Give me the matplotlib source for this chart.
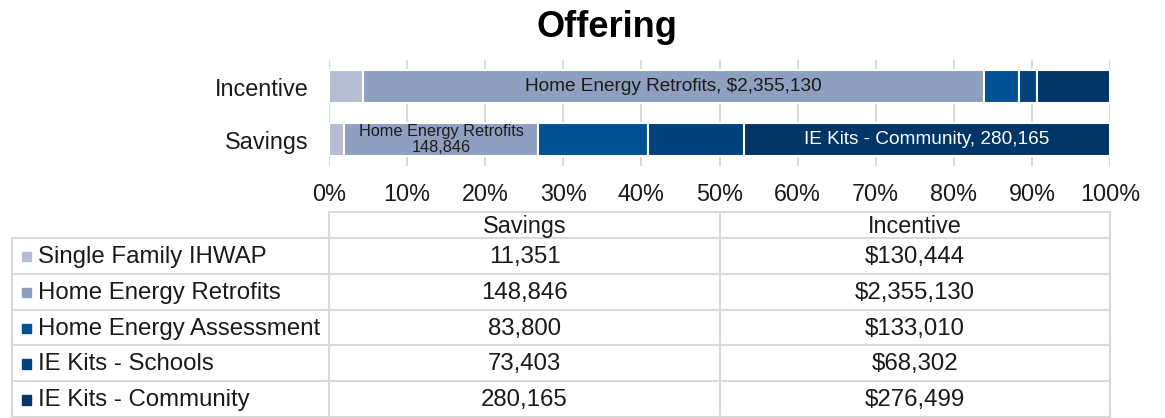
import matplotlib
matplotlib.use("Agg")
import matplotlib.pyplot as plt
from matplotlib.patches import Rectangle

plt.rcParams['font.family'] = ['Liberation Sans', 'DejaVu Sans']

# ---- data ----
programs = ["Single Family IHWAP", "Home Energy Retrofits", "Home Energy Assessment",
            "IE Kits - Schools", "IE Kits - Community"]
savings = [11351, 148846, 83800, 73403, 280165]
incentive = [130444, 2355130, 133010, 68302, 276499]
bar_rows = ["Savings", "Incentive"]
table_cols = ["Savings", "Incentive"]
savings_txt = ["11,351", "148,846", "83,800", "73,403", "280,165"]
incentive_txt = ["$130,444", "$2,355,130", "$133,010", "$68,302", "$276,499"]
colors = ["#b4bdd4", "#8f9fc0", "#005293", "#00427e", "#003568"]
xticks = [0, 10, 20, 30, 40, 50, 60, 70, 80, 90, 100]

W, H = 1165, 418
fig = plt.figure(figsize=(W / 100, H / 100), dpi=100)

def px_axes(left, top, right, bottom):
    return fig.add_axes([left / W, 1 - bottom / H, (right - left) / W, (bottom - top) / H])

# ---- stacked 100% bar chart ----
ax = px_axes(329, 60, 1110, 166)
series = {"Savings": savings, "Incentive": incentive}
for yi, row in enumerate(bar_rows):
    vals = series[row]
    tot = float(sum(vals))
    left = 0.0
    for i, v in enumerate(vals):
        w = v / tot * 100
        ax.barh(yi, w, left=left, height=0.62, color=colors[i], edgecolor="white",
                linewidth=1.5, zorder=3)
        cx = left + w / 2
        if row == "Incentive" and i == 1:
            ax.text(cx, yi, f"{programs[i]}, {incentive_txt[i]}", ha="center", va="center",
                    fontsize=13.7, color="#1a1a1a", zorder=4)
        if row == "Savings" and i == 1:
            ax.text(cx, yi, f"{programs[i]}\n{savings_txt[i]}", ha="center", va="center",
                    fontsize=11.7, color="#1a1a1a", linespacing=1.1, zorder=4)
        if row == "Savings" and i == 4:
            ax.text(cx, yi, f"{programs[i]}, {savings_txt[i]}", ha="center", va="center",
                    fontsize=13.7, color="white", zorder=4)
        left += w

ax.set_xlim(0, 100)
ax.set_ylim(-0.5, 1.5)
ax.set_xticks(xticks)
ax.set_xticklabels([f"{t}%" for t in xticks], fontsize=16.8, color="#1a1a1a")
ax.set_yticks(range(len(bar_rows)))
ax.set_yticklabels(bar_rows, fontsize=16.8, color="#1a1a1a")
ax.tick_params(axis="both", length=0)
ax.tick_params(axis="x", pad=12)
ax.tick_params(axis="y", pad=15)
ax.grid(axis="x", color="#d9d9d9", linewidth=1.4, zorder=0)
for s in ax.spines.values():
    s.set_visible(False)

fig.text(607 / W, 1 - 37 / H, "Offering", ha="center", va="baseline",
         fontsize=26, fontweight="bold", color="#000000")

# ---- data table ----
tx = px_axes(12, 212, 1110, 417)
tx.set_xlim(0, 1098)
tx.set_ylim(205, 0)
tx.axis("off")
col_x = [0, 317, 708, 1098]
header_h = 26
row_h = 35.8
row_y = [header_h + k * row_h for k in range(len(programs) + 1)]
gc = "#d9d9d9"
lw = 1.5
# header cells
tx.plot([col_x[1], col_x[3]], [0, 0], color=gc, lw=lw, clip_on=False)
for cxl in col_x[1:]:
    tx.plot([cxl, cxl], [0, row_y[-1]], color=gc, lw=lw, clip_on=False)
tx.plot([0, 0], [row_y[0], row_y[-1]], color=gc, lw=lw, clip_on=False)
for yy in row_y:
    tx.plot([0, col_x[3]], [yy, yy], color=gc, lw=lw, clip_on=False)
for j, c in enumerate(table_cols):
    tx.text((col_x[j + 1] + col_x[j + 2]) / 2, header_h / 2 + 1, c, ha="center", va="center",
            fontsize=16.8, color="#1a1a1a")
for i, p in enumerate(programs):
    cy = (row_y[i] + row_y[i + 1]) / 2 + 1
    tx.add_patch(Rectangle((9.5, cy - 5), 9.5, 9.5, color=colors[i], clip_on=False))
    tx.text(26, cy, p, ha="left", va="center", fontsize=17.3, color="#1a1a1a")
    tx.text((col_x[1] + col_x[2]) / 2, cy, savings_txt[i], ha="center", va="center",
            fontsize=17.3, color="#1a1a1a")
    tx.text((col_x[2] + col_x[3]) / 2, cy, incentive_txt[i], ha="center", va="center",
            fontsize=17.3, color="#1a1a1a")

fig.savefig("out.png", dpi=100)
